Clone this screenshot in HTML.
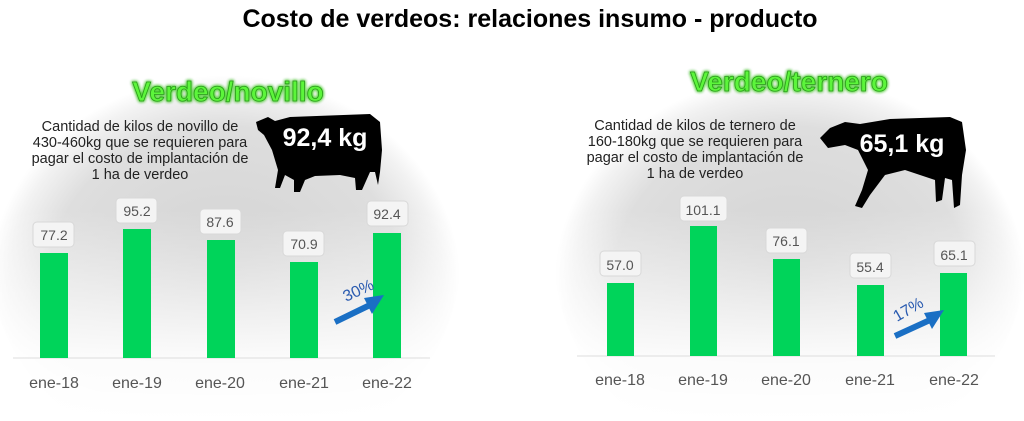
<!DOCTYPE html>
<html><head><meta charset="utf-8"><style>
html,body{margin:0;width:1024px;height:421px;background:#fff;overflow:hidden;font-family:"Liberation Sans",sans-serif}
svg{position:absolute;left:0;top:0;display:block}
</style></head><body>
<svg width="1024" height="421" viewBox="0 0 1024 421" xmlns="http://www.w3.org/2000/svg">
<defs>
<radialGradient id="g1" cx="0.5" cy="0.55" r="0.5">
<stop offset="0" stop-color="#d2d2d2"/><stop offset="0.75" stop-color="#dedede"/><stop offset="0.92" stop-color="#f2f2f2"/><stop offset="1" stop-color="#fff"/>
</radialGradient>
<linearGradient id="fade" x1="0" y1="0" x2="0" y2="1">
<stop offset="0" stop-color="#fff" stop-opacity="0"/><stop offset="0.7" stop-color="#fff" stop-opacity="0.9"/><stop offset="1" stop-color="#fff" stop-opacity="1"/>
</linearGradient>
<filter id="glow"><feGaussianBlur stdDeviation="1.5" result="b"/><feMerge><feMergeNode in="b"/><feMergeNode in="b"/><feMergeNode in="SourceGraphic"/></feMerge></filter>
</defs>
<ellipse cx="225" cy="260" rx="235" ry="205" fill="url(#g1)"/>
<ellipse cx="790" cy="260" rx="235" ry="205" fill="url(#g1)"/>
<rect x="0" y="210" width="1024" height="211" fill="url(#fade)"/>

<text x="530" y="27" text-anchor="middle" font-size="25" font-weight="bold" fill="#000">Costo de verdeos: relaciones insumo - producto</text>

<!-- left -->
<text x="228" y="101" text-anchor="middle" font-size="28" font-weight="bold" fill="#5cf53a" stroke="#2a9a1a" stroke-width="0.8" filter="url(#glow)">Verdeo/novillo</text>
<g font-size="14.5" fill="#222" text-anchor="middle">
<text x="140" y="131">Cantidad de kilos de novillo de</text>
<text x="140" y="147">430-460kg que se requieren para</text>
<text x="140" y="163">pagar el costo de implantación de</text>
<text x="140" y="179">1 ha de verdeo</text>
</g>
<path d="M256 122 L268 117 L275 121 L290 117 L370 114 L380 122 L382 150 L380 172 L378 185 L375 172 L370 172 L362 190 L356 190 L355 178 L340 175 L315 176 L305 180 L300 192 L294 192 L294 180 L285 175 L280 188 L275 188 L278 170 L272 150 L264 135 L258 130 Z" fill="#000"/>
<text x="325" y="146" text-anchor="middle" font-size="25" font-weight="bold" fill="#fff">92,4 kg</text>

<line x1="13" y1="358" x2="430" y2="358" stroke="#ddd" stroke-width="1"/>
<g fill="#00d45a">
<rect x="40" y="253" width="28" height="105"/><rect x="123" y="229" width="28" height="129"/><rect x="207" y="240" width="28" height="118"/><rect x="290" y="262" width="28" height="96"/><rect x="373" y="233" width="28" height="125"/>
</g>
<g fill="#f4f4f4" stroke="#d8d8d8" stroke-width="1">
<rect x="33" y="222" width="41" height="25" rx="4"/><rect x="116" y="198" width="41" height="25" rx="4"/><rect x="200" y="209" width="41" height="25" rx="4"/><rect x="283" y="231" width="41" height="25" rx="4"/><rect x="367" y="201" width="41" height="25" rx="4"/>
</g>
<g font-size="14" fill="#555" text-anchor="middle">
<text x="54" y="240">77.2</text><text x="137" y="216">95.2</text><text x="220" y="227">87.6</text><text x="304" y="249">70.9</text><text x="387" y="219">92.4</text>
</g>
<g font-size="16" fill="#555" text-anchor="middle">
<text x="54" y="388">ene-18</text><text x="137" y="388">ene-19</text><text x="220" y="388">ene-20</text><text x="304" y="388">ene-21</text><text x="387" y="388">ene-22</text>
</g>
<line x1="335" y1="322" x2="370" y2="305" stroke="#1a6fc4" stroke-width="6"/>
<polygon points="384,295 364,298 372,314" fill="#1a6fc4"/>
<text x="346" y="302" font-size="16" fill="#2a5bb0" transform="rotate(-25 346 302)">30%</text>

<!-- right -->
<text x="789" y="91" text-anchor="middle" font-size="28" font-weight="bold" fill="#5cf53a" stroke="#2a9a1a" stroke-width="0.8" filter="url(#glow)">Verdeo/ternero</text>
<g font-size="14.5" fill="#222" text-anchor="middle">
<text x="695" y="130">Cantidad de kilos de ternero de</text>
<text x="695" y="146">160-180kg que se requieren para</text>
<text x="695" y="162">pagar el costo de implantación de</text>
<text x="695" y="178">1 ha de verdeo</text>
</g>
<path d="M820 138 L830 128 L845 122 L860 124 L890 119 L950 117 L962 122 L966 150 L962 175 L960 205 L954 208 L952 180 L945 178 L942 200 L936 202 L935 180 L905 170 L885 175 L870 195 L862 208 L855 206 L862 190 L868 170 L858 150 L845 145 L828 148 Z" fill="#000"/>
<text x="902" y="152" text-anchor="middle" font-size="25" font-weight="bold" fill="#fff">65,1 kg</text>

<line x1="577" y1="356" x2="995" y2="356" stroke="#ddd" stroke-width="1"/>
<g fill="#00d45a">
<rect x="607" y="283" width="27" height="73"/><rect x="690" y="226" width="27" height="130"/><rect x="773" y="259" width="27" height="97"/><rect x="857" y="285" width="27" height="71"/><rect x="940" y="273" width="27" height="83"/>
</g>
<g fill="#f4f4f4" stroke="#d8d8d8" stroke-width="1">
<rect x="600" y="251" width="41" height="25" rx="4"/><rect x="680" y="196" width="47" height="25" rx="4"/><rect x="766" y="228" width="41" height="25" rx="4"/><rect x="850" y="253" width="41" height="25" rx="4"/><rect x="934" y="241" width="41" height="25" rx="4"/>
</g>
<g font-size="14" fill="#555" text-anchor="middle">
<text x="620" y="270">57.0</text><text x="703" y="215">101.1</text><text x="786" y="246">76.1</text><text x="870" y="272">55.4</text><text x="954" y="260">65.1</text>
</g>
<g font-size="16" fill="#555" text-anchor="middle">
<text x="620" y="385">ene-18</text><text x="703" y="385">ene-19</text><text x="786" y="385">ene-20</text><text x="870" y="385">ene-21</text><text x="954" y="385">ene-22</text>
</g>
<line x1="895" y1="336" x2="930" y2="320" stroke="#1a6fc4" stroke-width="6"/>
<polygon points="944,310 924,313 932,329" fill="#1a6fc4"/>
<text x="897" y="322" font-size="16" fill="#2a5bb0" transform="rotate(-30 897 322)">17%</text>
</svg>
</body></html>
